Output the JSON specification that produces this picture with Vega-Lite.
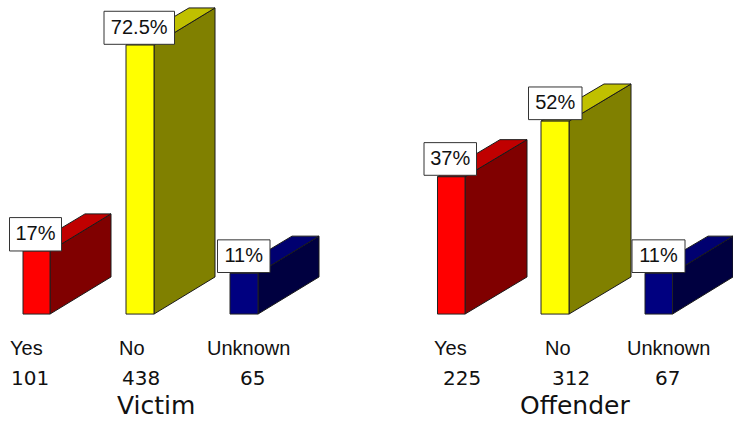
{"$schema":"https://vega.github.io/schema/vega-lite/v6.json","width":733,"height":421,"padding":0,"autosize":"none","background":"white","config":{"view":{"stroke":null}},
"datasets":{
"bars":[
{"panel":"Victim","category":"Yes","pct":17,"label":"17%","count":101,"start":23,"end":50,"boxL":9.5,"boxR":61.5,"boxLo":17,"boxHi":26,"boxMid":35.5,"catX":10,"countX":11},
{"panel":"Victim","category":"No","pct":72.5,"label":"72.5%","count":438,"start":126,"end":154,"boxL":104,"boxR":174.5,"boxLo":72.7,"boxHi":81.6,"boxMid":139.2,"catX":119,"countX":122},
{"panel":"Victim","category":"Unknown","pct":11,"label":"11%","count":65,"start":230,"end":258,"boxL":217.5,"boxR":270,"boxLo":11.2,"boxHi":20,"boxMid":243.7,"catX":207,"countX":240},
{"panel":"Offender","category":"Yes","pct":37,"label":"37%","count":225,"start":437.5,"end":465,"boxL":424,"boxR":476.5,"boxLo":37.4,"boxHi":46.2,"boxMid":450.2,"catX":434,"countX":443},
{"panel":"Offender","category":"No","pct":52,"label":"52%","count":312,"start":541,"end":569,"boxL":528.5,"boxR":582,"boxLo":52.4,"boxHi":61.2,"boxMid":555.2,"catX":545,"countX":552},
{"panel":"Offender","category":"Unknown","pct":11,"label":"11%","count":67,"start":645,"end":672.5,"boxL":632,"boxR":685,"boxLo":11.2,"boxHi":20,"boxMid":658.5,"catX":627,"countX":655}
],
"faces":[
{"panel":"Victim","face":"Yes side","v":1,"pos":50,"val":0},{"panel":"Victim","face":"Yes side","v":2,"pos":111,"val":10},{"panel":"Victim","face":"Yes side","v":3,"pos":111,"val":27},{"panel":"Victim","face":"Yes side","v":4,"pos":50,"val":17},
{"panel":"Victim","face":"Yes top","v":1,"pos":23,"val":17},{"panel":"Victim","face":"Yes top","v":2,"pos":50,"val":17},{"panel":"Victim","face":"Yes top","v":3,"pos":111,"val":27},{"panel":"Victim","face":"Yes top","v":4,"pos":85,"val":27},
{"panel":"Victim","face":"No side","v":1,"pos":154,"val":0},{"panel":"Victim","face":"No side","v":2,"pos":215,"val":10},{"panel":"Victim","face":"No side","v":3,"pos":215,"val":82.5},{"panel":"Victim","face":"No side","v":4,"pos":154,"val":72.5},
{"panel":"Victim","face":"No top","v":1,"pos":126,"val":72.5},{"panel":"Victim","face":"No top","v":2,"pos":154,"val":72.5},{"panel":"Victim","face":"No top","v":3,"pos":215,"val":82.5},{"panel":"Victim","face":"No top","v":4,"pos":189,"val":82.5},
{"panel":"Victim","face":"Unknown side","v":1,"pos":258,"val":0},{"panel":"Victim","face":"Unknown side","v":2,"pos":319,"val":10},{"panel":"Victim","face":"Unknown side","v":3,"pos":319,"val":21},{"panel":"Victim","face":"Unknown side","v":4,"pos":258,"val":11},
{"panel":"Victim","face":"Unknown top","v":1,"pos":230,"val":11},{"panel":"Victim","face":"Unknown top","v":2,"pos":258,"val":11},{"panel":"Victim","face":"Unknown top","v":3,"pos":319,"val":21},{"panel":"Victim","face":"Unknown top","v":4,"pos":292,"val":21},
{"panel":"Offender","face":"Yes side","v":1,"pos":465,"val":0},{"panel":"Offender","face":"Yes side","v":2,"pos":527,"val":10},{"panel":"Offender","face":"Yes side","v":3,"pos":527,"val":47},{"panel":"Offender","face":"Yes side","v":4,"pos":465,"val":37},
{"panel":"Offender","face":"Yes top","v":1,"pos":437.5,"val":37},{"panel":"Offender","face":"Yes top","v":2,"pos":465,"val":37},{"panel":"Offender","face":"Yes top","v":3,"pos":527,"val":47},{"panel":"Offender","face":"Yes top","v":4,"pos":500,"val":47},
{"panel":"Offender","face":"No side","v":1,"pos":569,"val":0},{"panel":"Offender","face":"No side","v":2,"pos":631,"val":10},{"panel":"Offender","face":"No side","v":3,"pos":631,"val":62},{"panel":"Offender","face":"No side","v":4,"pos":569,"val":52},
{"panel":"Offender","face":"No top","v":1,"pos":541,"val":52},{"panel":"Offender","face":"No top","v":2,"pos":569,"val":52},{"panel":"Offender","face":"No top","v":3,"pos":631,"val":62},{"panel":"Offender","face":"No top","v":4,"pos":604,"val":62},
{"panel":"Offender","face":"Unknown side","v":1,"pos":672.5,"val":0},{"panel":"Offender","face":"Unknown side","v":2,"pos":733,"val":10},{"panel":"Offender","face":"Unknown side","v":3,"pos":733,"val":21},{"panel":"Offender","face":"Unknown side","v":4,"pos":672.5,"val":11},
{"panel":"Offender","face":"Unknown top","v":1,"pos":645,"val":11},{"panel":"Offender","face":"Unknown top","v":2,"pos":672.5,"val":11},{"panel":"Offender","face":"Unknown top","v":3,"pos":733,"val":21},{"panel":"Offender","face":"Unknown top","v":4,"pos":708,"val":21}
],
"panels":[{"panel":"Victim","titleX":117},{"panel":"Offender","titleX":520}]
},
"resolve":{"scale":{"fill":"independent"}},
"layer":[
{"data":{"name":"faces"},"mark":{"type":"line","interpolate":"linear-closed","stroke":"#1a1a1a","strokeWidth":1,"clip":true},
"encoding":{"x":{"field":"pos","type":"quantitative","scale":{"domain":[0,733],"nice":false,"zero":false},"axis":null},
"y":{"field":"val","type":"quantitative","scale":{"domain":[-28.82,84.64],"nice":false,"zero":false},"axis":null},
"order":{"field":"v","type":"ordinal"},"detail":{"field":"panel"},
"fill":{"field":"face","type":"nominal","legend":null,"scale":{"domain":["Yes side","Yes top","No side","No top","Unknown side","Unknown top"],"range":["#800000","#C00000","#808000","#C0C000","#000040","#000070"]}}}},
{"data":{"name":"bars"},"mark":{"type":"rect","stroke":"#222222","strokeWidth":1},
"encoding":{"x":{"field":"start","type":"quantitative"},"x2":{"field":"end"},"y":{"field":"pct","type":"quantitative"},"y2":{"datum":0},
"fill":{"field":"category","type":"nominal","legend":null,"scale":{"domain":["Yes","No","Unknown"],"range":["#FF0000","#FFFF00","#000080"]}}}},
{"data":{"name":"bars"},"mark":{"type":"rect","fill":"white","stroke":"#333333","strokeWidth":1},
"encoding":{"x":{"field":"boxL","type":"quantitative"},"x2":{"field":"boxR"},"y":{"field":"boxLo","type":"quantitative"},"y2":{"field":"boxHi"}}},
{"data":{"name":"bars"},"mark":{"type":"text","font":"Liberation Sans","fontSize":20,"align":"center","baseline":"alphabetic","color":"#111111","dy":-10.5},
"encoding":{"x":{"field":"boxMid","type":"quantitative"},"y":{"field":"boxLo","type":"quantitative"},"text":{"field":"label"}}},
{"data":{"name":"bars"},"mark":{"type":"text","font":"Liberation Sans","fontSize":20,"align":"left","baseline":"alphabetic","color":"#111111"},
"encoding":{"x":{"field":"catX","type":"quantitative"},"y":{"datum":-11.05},"text":{"field":"category"}}},
{"data":{"name":"bars"},"mark":{"type":"text","font":"DejaVu Sans","fontSize":20,"align":"left","baseline":"alphabetic","color":"#111111"},
"encoding":{"x":{"field":"countX","type":"quantitative"},"y":{"datum":-19.14},"text":{"field":"count","type":"quantitative"}}},
{"data":{"name":"panels"},"mark":{"type":"text","font":"DejaVu Sans","fontSize":25,"align":"left","baseline":"alphabetic","color":"#111111"},
"encoding":{"x":{"field":"titleX","type":"quantitative"},"y":{"datum":-26.95},"text":{"field":"panel"}}}
]}
